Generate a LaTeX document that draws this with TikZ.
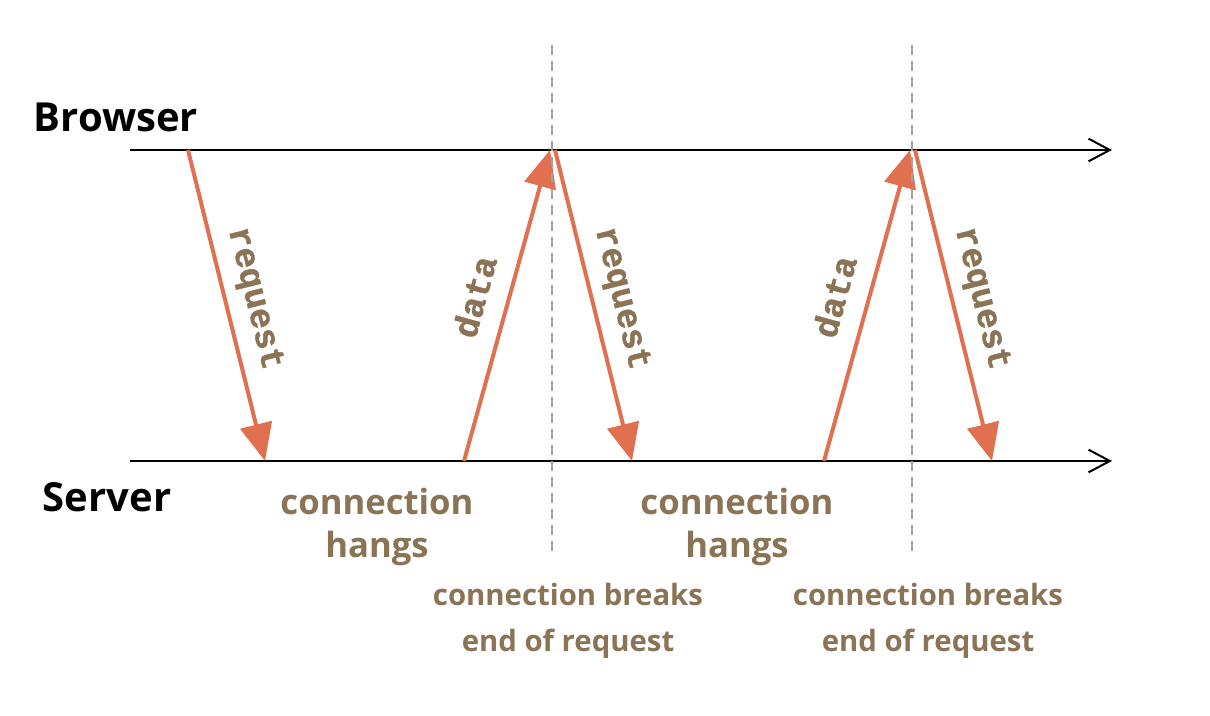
\documentclass[tikz,border=0pt]{standalone}
\usepackage{fontspec}
\setmainfont{Open Sans}[BoldFont={Open Sans Bold}]
\newfontfamily\codefont{Liberation Mono}[BoldFont={Liberation Mono Bold},BoldFeatures={FakeBold=1.2}]
\usetikzlibrary{arrows.meta}
\definecolor{arrowred}{RGB}{225,112,80}
\definecolor{textbrown}{RGB}{139,115,85}
\definecolor{guidegray}{RGB}{160,160,160}

\begin{document}
\begin{tikzpicture}[x=0.75pt,y=-0.75pt,
  timeline/.style={line width=1.5pt,-{Straight Barb[length=16pt,width=17pt,line width=1.5pt]}},
  msg/.style={draw=arrowred,line width=3pt,-{Triangle[length=28pt,width=24pt,fill=arrowred]}},
  msglabel/.style={textbrown,font=\codefont\bfseries\fontsize{26}{26}\selectfont,sloped,midway},
  side/.style={font=\bfseries\fontsize{30}{30}\selectfont},
  note/.style={textbrown,font=\bfseries\fontsize{26}{32}\selectfont,align=center,inner sep=0pt},
  smallnote/.style={textbrown,font=\bfseries\fontsize{22}{35}\selectfont,align=center,inner sep=0pt},
  guide/.style={guidegray,line width=1.5pt,dash pattern=on 7.5pt off 4.5pt}]
\useasboundingbox (0,0) rectangle (1210,716);
%\draw[step=50,lightgray,very thin] (0,0) grid (1210,716);
\node[side] (browser) at (116,117) {Browser};
\node[side] (server) at (107,497) {Server};
\coordinate (bstart) at (130,150);
\coordinate (bend) at (1112,150);
\coordinate (sstart) at (130,461);
\coordinate (send) at (1112,461);
\draw[timeline] (bstart) -- (bend);
\draw[timeline] (sstart) -- (send);

\coordinate (b1) at (188,150);
\coordinate (s1) at (265,461);
\coordinate (s2) at (464,461);
\coordinate (b2) at (550,150);
\coordinate (b3) at (555,150);
\coordinate (s3) at (632,461);
\coordinate (s4) at (824,461);
\coordinate (b4) at (910,150);
\coordinate (b5) at (915,150);
\coordinate (s5) at (992,461);

\draw[msg] (b1) -- node[msglabel,above=5pt] {request} (s1);
\draw[msg] (s2) -- node[msglabel,above=11pt] {data} (b2);
\draw[msg] (b3) -- node[msglabel,above=5pt] {request} (s3);
\draw[msg] (s4) -- node[msglabel,above=11pt] {data} (b4);
\draw[msg] (b5) -- node[msglabel,above=5pt] {request} (s5);

\coordinate (g1top) at (552,45);
\coordinate (g1bot) at (552,555);
\coordinate (g2top) at (912,45);
\coordinate (g2bot) at (912,555);
\draw[guide] (g1top) -- (g1bot);
\draw[guide] (g2top) -- (g2bot);

\node[note] (hang1) at (377,527) {connection\\hangs};
\node[note] (hang2) at (737,527) {connection\\hangs};
\node[smallnote] (break1) at (568,621) {connection breaks\\end of request};
\node[smallnote] (break2) at (928,621) {connection breaks\\end of request};
\end{tikzpicture}
\end{document}
